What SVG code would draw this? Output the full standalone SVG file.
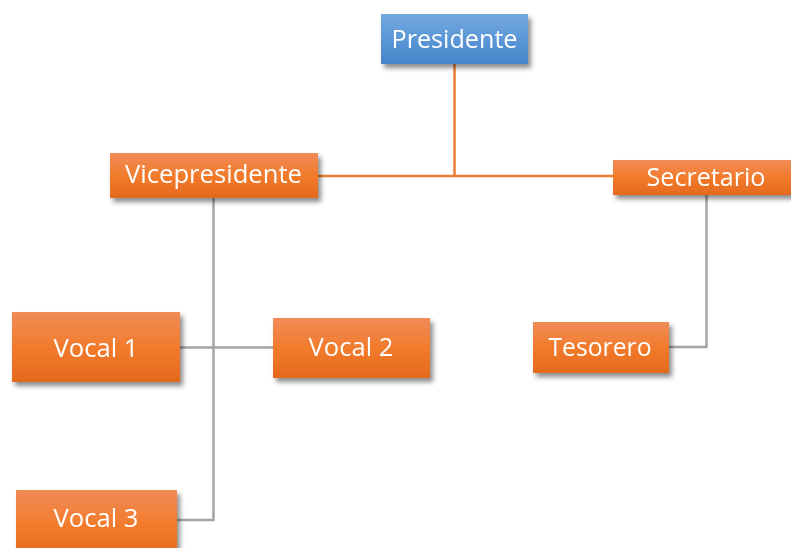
<svg xmlns="http://www.w3.org/2000/svg" width="791" height="548" viewBox="0 0 791 548">
<defs>
<linearGradient id="gO" x1="0" y1="0" x2="0" y2="1">
<stop offset="0" stop-color="#f08c58"/>
<stop offset="0.5" stop-color="#f27b2c"/>
<stop offset="1" stop-color="#e5691d"/>
</linearGradient>
<linearGradient id="gB" x1="0" y1="0" x2="0" y2="1">
<stop offset="0" stop-color="#72a8de"/>
<stop offset="0.5" stop-color="#5b97d7"/>
<stop offset="1" stop-color="#4784c8"/>
</linearGradient>
<filter id="sh" x="-20%" y="-30%" width="140%" height="170%">
<feDropShadow dx="3" dy="4" stdDeviation="2.5" flood-color="#000" flood-opacity="0.45"/>
</filter>
</defs>
<style>
.box{filter:url(#sh)}
.o{fill:url(#gO)}
.b{fill:url(#gB)}
.t{font-family:"Open Sans","Noto Sans",sans-serif;font-size:26px;fill:#fff;text-anchor:middle}
.co{fill:none;stroke:#ed7d31;stroke-width:2.5}
.cg{fill:none;stroke:#a5a5a5;stroke-width:2.5}
</style>
<rect width="791" height="548" fill="#fff"/>
<g id="connectors">
<path class="co" d="M454.5 64 V176 M318 176 H613"/>
<path class="cg" d="M213.5 198 V520 H177 M180 347.5 H273"/>
<path class="cg" d="M706.5 195 V347 H669"/>
</g>
<g id="presidente" class="box">
<rect class="b" x="381" y="14" width="147" height="50"/>
<text class="t" x="454.5" y="48" textLength="126" lengthAdjust="spacingAndGlyphs">Presidente</text>
</g>
<g id="vicepresidente" class="box">
<rect class="o" x="110" y="153" width="208" height="45"/>
<text class="t" x="213.5" y="182.5" textLength="177" lengthAdjust="spacingAndGlyphs">Vicepresidente</text>
</g>
<g id="secretario" class="box">
<rect class="o" x="613" y="160" width="187" height="35"/>
<text class="t" x="706" y="185.5" textLength="119" lengthAdjust="spacingAndGlyphs">Secretario</text>
</g>
<g id="vocal1" class="box">
<rect class="o" x="12" y="312" width="168" height="70"/>
<text class="t" x="96" y="357" textLength="85" lengthAdjust="spacingAndGlyphs">Vocal 1</text>
</g>
<g id="vocal2" class="box">
<rect class="o" x="273" y="318" width="157" height="60"/>
<text class="t" x="351" y="355.5" textLength="85" lengthAdjust="spacingAndGlyphs">Vocal 2</text>
</g>
<g id="tesorero" class="box">
<rect class="o" x="533" y="322" width="136" height="51"/>
<text class="t" x="600" y="355.5" textLength="103" lengthAdjust="spacingAndGlyphs">Tesorero</text>
</g>
<g id="vocal3" class="box">
<rect class="o" x="16" y="490" width="161" height="70"/>
<text class="t" x="96" y="527" textLength="85" lengthAdjust="spacingAndGlyphs">Vocal 3</text>
</g>
</svg>
